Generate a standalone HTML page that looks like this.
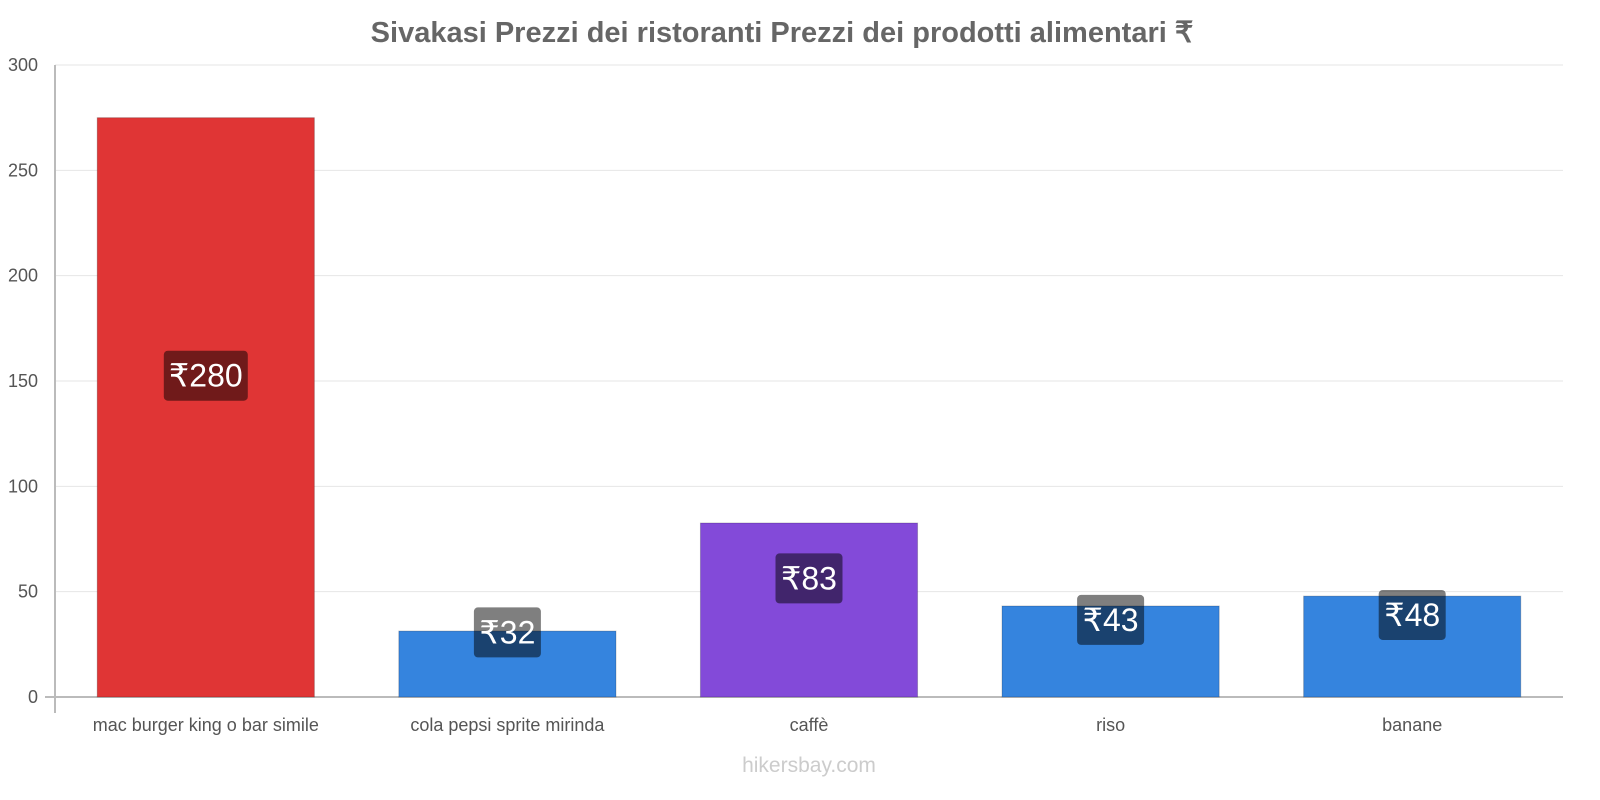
<!DOCTYPE html>
<html><head><meta charset="utf-8"><style>
html,body{margin:0;padding:0;background:#fff;overflow:hidden;width:1600px;height:800px;}
svg{display:block;}
svg text{font-family:"Liberation Sans",sans-serif;}
</style></head><body>
<svg id="chart" width="1600" height="800">
<text x="782" y="42" text-anchor="middle" font-size="29" font-weight="bold" fill="#666">Sivakasi Prezzi dei ristoranti Prezzi dei prodotti alimentari ₹</text>
<g id="grid"></g><g id="bars"></g>
<text x="809" y="772" text-anchor="middle" font-size="21" fill="#ccc">hikersbay.com</text>
</svg>
<script>
const categories=["mac burger king o bar simile","cola pepsi sprite mirinda","caffè","riso","banane"];
const values=[275,31.3,82.6,43.2,47.9];
const labels=["₹280","₹32","₹83","₹43","₹48"];
const colors=["#e03535","#3584de","#834ad9","#3584de","#3584de"];
const ticks=[0,50,100,150,200,250,300];
const NS="http://www.w3.org/2000/svg";
const x0=55,x1=1563,yTop=65,yBot=697,maxV=300;
const y=v=>yBot-(v/maxV)*(yBot-yTop);
const band=(x1-x0)/categories.length;
const xc=i=>x0+band*(i+0.5);
function mk(t,a,p){const e=document.createElementNS(NS,t);for(const k in a)e.setAttribute(k,a[k]);p.appendChild(e);return e;}
const g=document.getElementById('grid'),b=document.getElementById('bars');
ticks.forEach(t=>{
 const l=mk('line',{x1:t===0?45:x0,x2:x1,y1:y(t),y2:y(t),stroke:t===0?'#bbb':'#e6e6e6','stroke-width':t===0?2:1},g);
 
 
 const tx=mk('text',{x:38,y:y(t)+6,'text-anchor':'end','font-size':18,fill:'#555'},g);
 tx.textContent=t;
 
 
});
const ax=mk('line',{x1:x0,x2:x0,y1:yTop,y2:yBot+16,stroke:'#bbb','stroke-width':2},g);


categories.forEach((c,i)=>{
 const w=band*0.72,cx=xc(i);
 const r=mk('rect',{x:cx-w/2,y:y(values[i]),width:w,height:yBot-y(values[i]),fill:colors[i],stroke:'rgba(0,0,0,0.2)'},b);
 
 
 const ly=y(values[i]/2+15);
 const bw=labels[i].length*17+16;
 const lb=mk('rect',{x:cx-bw/2,y:ly-25,width:bw,height:50,rx:4,fill:'rgba(0,0,0,0.5)'},b);
 
 
 const lt=mk('text',{x:cx,y:ly+11,'text-anchor':'middle','font-size':32,fill:'#fff'},b);
 lt.textContent=labels[i];
 
 
 const ct=mk('text',{x:cx,y:731,'text-anchor':'middle','font-size':18,fill:'#555'},b);
 ct.textContent=c;
 
 
});
</script>
</body></html>
